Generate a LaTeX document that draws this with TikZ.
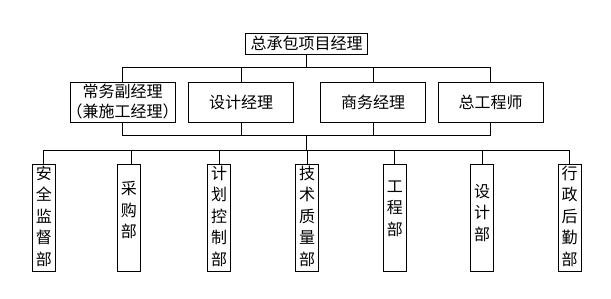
\documentclass[tikz,border=0pt]{standalone}
\usepackage{fontspec}
\newfontfamily\cjk{Noto Sans CJK SC}
\newcommand\deptlabel[2]{\parbox[c][107pt][t]{23pt}{\centering\vspace*{#1}#2}}
\begin{document}
\begin{tikzpicture}[x=1pt,y=-1pt,line width=0.9pt,
  box/.style={draw,inner sep=0pt,font=\cjk\fontsize{16}{20}\selectfont,align=center},
  topbox/.style={box,minimum width=122pt,minimum height=21pt},
  mgr/.style={box,minimum width=105pt,minimum height=40pt},
  dept/.style={draw,inner sep=0pt,font=\cjk\fontsize{16}{21.5}\selectfont}]
\useasboundingbox (0,0) rectangle (611,299);
% top
\node[topbox] (pm) at (306.5,43.5) {总承包项目经理};
% managers
\node[mgr] (m1) at (122.5,102) {常务副经理\\\makebox[104pt][c]{（兼施工经理）}};
\node[mgr] (m2) at (241,102) {设计经理};
\node[mgr] (m3) at (373,102) {商务经理};
\node[mgr] (m4) at (490.5,102) {总工程师};
% departments
\node[dept] (d1) at (43.8,217.5) {\deptlabel{2pt}{安\\全\\监\\督\\部}};
\node[dept] (d2) at (128.8,217.5) {\deptlabel{17.5pt}{采\\购\\部}};
\node[dept] (d3) at (219,217.5) {\deptlabel{2pt}{计\\划\\控\\制\\部}};
\node[dept] (d4) at (307.2,217.5) {\deptlabel{2pt}{技\\术\\质\\量\\部}};
\node[dept] (d5) at (394.8,217.5) {\deptlabel{16.5pt}{工\\程\\部}};
\node[dept] (d6) at (482,217.5) {\deptlabel{20pt}{设\\计\\部}};
\node[dept] (d7) at (569.7,217.5) {\deptlabel{2pt}{行\\政\\后\\勤\\部}};
% bus coordinates
\coordinate (b1) at (306.5,67);
\coordinate (b2) at (306.5,135);
\coordinate (b3) at (306.5,150);
% top to managers
\draw (pm.south) -- (b1);
\draw (m1.north) -- (m1.north |- b1) -- (m4.north |- b1) -- (m4.north);
\draw (m2.north) -- (m2.north |- b1);
\draw (m3.north) -- (m3.north |- b1);
% managers to lower bus
\draw (m1.south) -- (m1.south |- b2) -- (m4.south |- b2) -- (m4.south);
\draw (m2.south) -- (m2.south |- b2);
\draw (m3.south) -- (m3.south |- b2);
\draw (b2) -- (b3);
% department bus
\draw (d1.north) -- (d1.north |- b3) -- (d7.north |- b3) -- (d7.north);
\draw ([xshift=2.5pt]d2.north) -- ([xshift=2.5pt]d2.north |- b3);
\draw (d3.north) -- (d3.north |- b3);
\draw (d4.north) -- (d4.north |- b3);
\draw (d5.north) -- (d5.north |- b3);
\draw (d6.north) -- (d6.north |- b3);
\end{tikzpicture}
\end{document}
